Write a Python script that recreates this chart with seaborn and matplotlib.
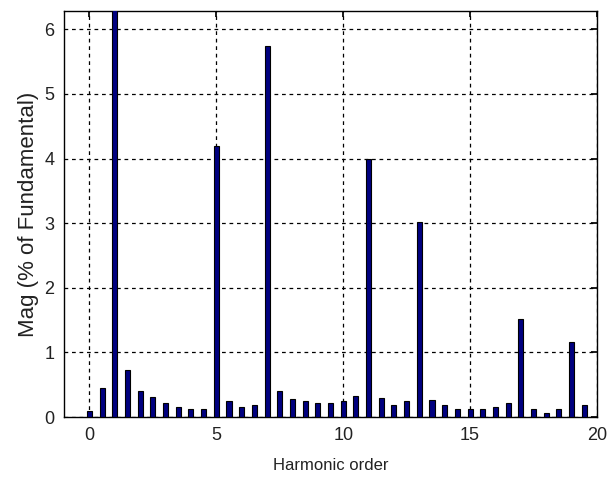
import seaborn as sns
import matplotlib.pyplot as plt
import pandas as pd

# harmonic orders in steps of 0.5 and their magnitudes (% of fundamental)
orders = [0, 0.5, 1, 1.5, 2, 2.5, 3, 3.5, 4, 4.5,
          5, 5.5, 6, 6.5, 7, 7.5, 8, 8.5, 9, 9.5,
          10, 10.5, 11, 11.5, 12, 12.5, 13, 13.5, 14, 14.5,
          15, 15.5, 16, 16.5, 17, 17.5, 18, 18.5, 19, 19.5]
mags = [0.09, 0.45, 100.0, 0.72, 0.40, 0.31, 0.21, 0.15, 0.13, 0.13,
        4.20, 0.25, 0.15, 0.18, 5.74, 0.40, 0.28, 0.25, 0.21, 0.21,
        0.25, 0.33, 4.00, 0.30, 0.18, 0.25, 3.02, 0.27, 0.18, 0.13,
        0.13, 0.13, 0.16, 0.21, 1.52, 0.13, 0.06, 0.13, 1.16, 0.18]
x_ticks = [0, 5, 10, 15, 20]
y_ticks = [0, 1, 2, 3, 4, 5, 6]

df = pd.DataFrame({"order": orders, "mag": mags})

sns.set_theme(style="white")
plt.rcParams['font.family'] = ['Liberation Sans', 'DejaVu Sans']

fig = plt.figure(figsize=(6.12, 4.87), dpi=100)
ax = fig.add_axes([0.1046, 0.1437, 0.8709, 0.8333])

sns.barplot(data=df, x="order", y="mag", native_scale=True, width=0.4,
            color="#000080", saturation=1, edgecolor="black", linewidth=0.8,
            ax=ax, zorder=3)

ax.set_xlim(-1, 20)
ax.set_ylim(0, 6.28)
ax.set_xticks(x_ticks)
ax.set_xticklabels([str(t) for t in x_ticks])
ax.set_yticks(y_ticks)
ax.set_yticklabels([str(t) for t in y_ticks])

ax.grid(True, color="black", linestyle=(0, (3, 3)), linewidth=0.9)
ax.set_axisbelow(True)
for s in ax.spines.values():
    s.set_color("black")
    s.set_linewidth(1.0)
ax.tick_params(direction="in", top=True, right=True, length=4,
               color="black", labelsize=13, labelcolor="#222222", pad=7)

ax.set_xlabel("Harmonic order", fontsize=12, color="#222222", labelpad=10)
ax.set_ylabel("Mag (% of Fundamental)", fontsize=16, color="#222222", labelpad=4)

fig.savefig("out.png", dpi=100)
plt.close(fig)
